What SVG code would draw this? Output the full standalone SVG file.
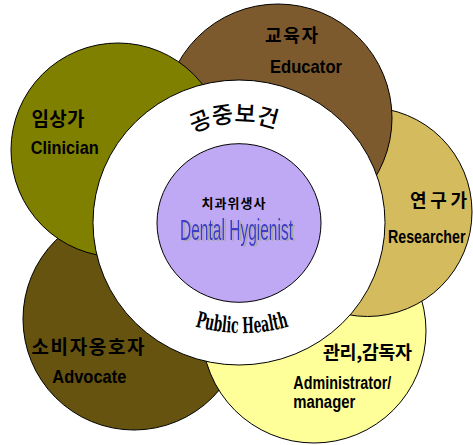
<svg xmlns="http://www.w3.org/2000/svg" width="473" height="445" viewBox="0 0 473 445">
<defs>
<style>
.c{stroke:#000;stroke-width:1}
.en{font-family:"Liberation Sans",Arial,sans-serif;font-weight:bold;fill:#000}
.ko{font-family:"Noto Sans CJK KR","Liberation Sans",sans-serif;font-weight:bold;fill:#000}
</style>
<filter id="sh" x="-10%" y="-30%" width="120%" height="160%">
<feFlood flood-color="#a8a8a8"/>
<feComposite in2="SourceAlpha" operator="in"/>
<feOffset dx="1.8" dy="1.2" result="s"/>
<feMerge><feMergeNode in="s"/><feMergeNode in="SourceGraphic"/></feMerge>
</filter>
<path id="arcTop" d="M152.4,172 A100,100 0 0,1 325.6,172"/>
<path id="arcBot" d="M131.4,292.8 A172,172 0 0,0 352.6,292.8"/>
</defs>
<rect width="473" height="445" fill="#fff"/>
<g id="advocate">
<circle class="c" cx="134" cy="319" r="111" fill="#65530f"/>
<text class="ko" x="31.5" y="354" font-size="19" textLength="113" lengthAdjust="spacing">소비자옹호자</text>
<text class="en" x="52.3" y="382.7" font-size="19" textLength="74" lengthAdjust="spacingAndGlyphs">Advocate</text>
</g>
<g id="administrator">
<circle class="c" cx="314" cy="331" r="112" fill="#ffff99"/>
<text class="ko" x="323" y="359" font-size="18.5" textLength="89" lengthAdjust="spacing">관리,감독자</text>
<text class="en" x="293.3" y="389.3" font-size="17.5" textLength="98" lengthAdjust="spacingAndGlyphs">Administrator/</text>
<text class="en" x="293.3" y="408.3" font-size="18" textLength="62" lengthAdjust="spacingAndGlyphs">manager</text>
</g>
<g id="researcher">
<circle class="c" cx="367.5" cy="212" r="104.5" fill="#d4bc5e"/>
<text class="ko" x="410" y="207" font-size="18" textLength="57" lengthAdjust="spacing">연구가</text>
<text class="en" transform="translate(388,243.3) scale(0.79,1)" font-size="18">Researcher</text>
</g>
<g id="educator">
<circle class="c" cx="278" cy="118" r="114" fill="#7c5a2e"/>
<text class="ko" x="265" y="42.3" font-size="18" textLength="53" lengthAdjust="spacing">교육자</text>
<text class="en" x="270" y="73.3" font-size="19" textLength="72" lengthAdjust="spacingAndGlyphs">Educator</text>
</g>
<g id="clinician">
<circle class="c" cx="118" cy="150" r="107" fill="#808000"/>
<text class="ko" x="31.5" y="126.3" font-size="19" textLength="53" lengthAdjust="spacing">임상가</text>
<text class="en" x="30.7" y="154" font-size="19" textLength="68" lengthAdjust="spacingAndGlyphs">Clinician</text>
</g>
<g id="public-health">
<ellipse class="c" cx="239" cy="222.5" rx="146" ry="142.5" fill="#fff"/>
<text font-family="Noto Sans CJK KR,sans-serif" font-weight="500" font-size="23" fill="#000"><textPath href="#arcTop" startOffset="99.8" text-anchor="middle">공중보건</textPath></text>
<text font-family="DejaVu Serif Condensed,DejaVu Serif,serif" font-weight="bold" font-size="22" fill="#000"><textPath href="#arcBot" startOffset="120" text-anchor="middle" textLength="95" lengthAdjust="spacingAndGlyphs">Public Health</textPath></text>
</g>
<g id="dental-hygienist">
<ellipse class="c" cx="239" cy="223" rx="82" ry="79.3" fill="#c0a9f4"/>
<text class="ko" x="201.5" y="207.5" font-size="13" textLength="64" lengthAdjust="spacing">치과위생사</text>
<text x="180" y="240" font-family="Liberation Sans,Arial,sans-serif" font-size="30" fill="#3c3cc8" textLength="113" lengthAdjust="spacingAndGlyphs" filter="url(#sh)">Dental Hygienist</text>
</g>
<g id="connectors"/>
</svg>
